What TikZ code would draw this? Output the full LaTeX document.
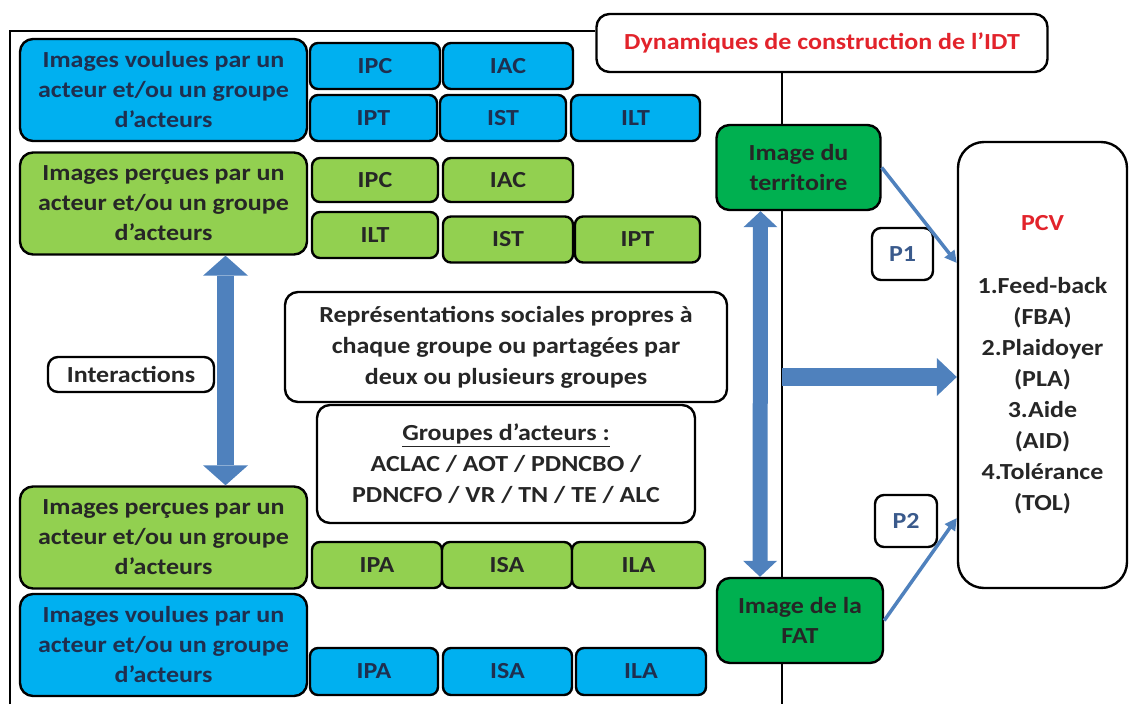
\documentclass[tikz,border=0pt]{standalone}
\usepackage{fontspec}
\setmainfont{Carlito}[FakeStretch=1.13]
\usetikzlibrary{arrows.meta,positioning}

\definecolor{cyanfill}{HTML}{00B0F0}
\definecolor{limefill}{HTML}{92D050}
\definecolor{deepgreen}{HTML}{00B050}
\definecolor{arrowblue}{HTML}{4F81BD}
\definecolor{titlered}{HTML}{E2232B}
\definecolor{navytext}{HTML}{1F2F4F}
\definecolor{ptext}{HTML}{3A5A8C}

\tikzset{
  box/.style={draw, line width=2.4pt, rounded corners=13pt, align=center, inner sep=0pt,
    font=\bfseries\fontsize{23}{30}\selectfont},
  bigbox/.style={box, minimum width=287pt, minimum height=102pt},
  tag/.style={box, rounded corners=8pt, minimum width=128pt, minimum height=46pt},
  wanted/.style={fill=cyanfill, text=navytext},
  seen/.style={fill=limefill, text=black!85},
  imgbox/.style={box, fill=deepgreen, text=black!85, minimum width=164pt, minimum height=85pt},
  note/.style={box, fill=white, text=black!85},
  bigarrow/.style={draw=arrowblue, line width=17pt},
  thinarrow/.style={draw=arrowblue, line width=3.5pt, -{Triangle[width=12pt,length=12pt]}},
  frame/.style={line width=2.4pt}
}

\begin{document}
\begin{tikzpicture}[x=1pt, y=-1pt]
\useasboundingbox (0,0) rectangle (1131,704);

\node[note, minimum width=451pt, minimum height=58pt, text=titlered] (title) at (822,43) {Dynamiques de construction de l’IDT};
\coordinate (spine) at (782,704);
\draw[frame] (10,704) -- (10,31) -- (title.west |- 0,31);
\draw[frame] (title.south -| spine) -- (spine);

% images voulues / percues
\node[bigbox, wanted] (want1) at (163.5,90) {Images voulues par un\\acteur et/ou un groupe\\d’acteurs};
\node[bigbox, seen] (seen1) at (163.5,203.5) {Images perçues par un\\acteur et/ou un groupe\\d’acteurs};
\node[bigbox, seen] (seen2) at (163.5,537.5) {Images perçues par un\\acteur et/ou un groupe\\d’acteurs};
\node[bigbox, wanted] (want2) at (163.5,645) {Images voulues par un\\acteur et/ou un groupe\\d’acteurs};

\node[tag, wanted, minimum width=130pt] (wipc) at (375,66) {IPC};
\node[tag, wanted, minimum width=130pt] (wiac) at (508,66) {IAC};
\node[tag, wanted, minimum width=127pt] (wipt) at (373.5,118) {IPT};
\node[tag, wanted, minimum width=126pt] (wist) at (503,118) {IST};
\node[tag, wanted, minimum width=129pt] (wilt) at (635.5,118) {ILT};

\node[tag, seen, minimum width=126pt, minimum height=44pt] (sipc) at (375,180) {IPC};
\node[tag, seen, minimum width=130pt, minimum height=44pt] (siac) at (508,180) {IAC};
\node[tag, seen, minimum width=126pt] (silt) at (375,235) {ILT};
\node[tag, seen, minimum width=130pt] (sist) at (508,239.5) {IST};
\node[tag, seen, minimum width=125pt] (sipt) at (637.5,239.5) {IPT};

\node[tag, seen, minimum width=130pt] (sipa) at (377,565) {IPA};
\node[tag, seen, minimum width=130pt] (sisa) at (507,565) {ISA};
\node[tag, seen, minimum width=133pt] (sila) at (638.5,565) {ILA};

\node[tag, wanted, minimum width=128pt, minimum height=47pt] (wipa) at (374,671.5) {IPA};
\node[tag, wanted, minimum width=129pt, minimum height=47pt] (wisa) at (507.5,671.5) {ISA};
\node[tag, wanted, minimum width=130pt, minimum height=47pt] (wila) at (641,671.5) {ILA};

% representations sociales
\node[note, rounded corners=10pt, minimum width=166pt, minimum height=35pt] (inter) at (131,374.5) {Interactions};
\node[note, minimum width=442pt, minimum height=110pt, font=\bfseries\fontsize{23}{31}\selectfont] (repr) at (506,347) {Représentations sociales propres à\\chaque groupe ou partagées par\\deux ou plusieurs groupes};
\node[note, minimum width=378pt, minimum height=118pt, font=\bfseries\fontsize{23}{31}\selectfont] (groups) at (506,464) {\underline{Groupes d’acteurs :}\\ACLAC / AOT / PDNCBO /\\PDNCFO / VR / TN / TE / ALC};

\draw[bigarrow, {Triangle[width=45pt,length=20pt,line width=0pt]}-{Triangle[width=45pt,length=20pt,line width=0pt]}]
  ([xshift=62pt]seen1.south) -- ([xshift=62pt]seen2.north);

% images du territoire et PCV
\node[imgbox] (terr) at (798.5,167.5) {Image du\\territoire};
\node[imgbox, minimum width=166pt] (fat) at (800,620.5) {Image de la\\FAT};
\node[note, rounded corners=26pt, minimum width=169pt, minimum height=446pt, font=\bfseries\fontsize{23}{31}\selectfont] (pcv) at (1042.5,365)
  {\textcolor{titlered}{PCV}\\[32pt]1.Feed-back\\(FBA)\\2.Plaidoyer\\(PLA)\\3.Aide\\(AID)\\4.Tolérance\\(TOL)};
\node[note, rounded corners=9pt, minimum width=61pt, minimum height=52pt, text=ptext] (p1) at (902.5,254) {P1};
\node[note, rounded corners=9pt, minimum width=62pt, minimum height=52pt, text=ptext] (p2) at (906,521) {P2};

\draw[bigarrow, line width=15pt, {Triangle[width=34pt,length=16pt,line width=0pt]}-{Triangle[width=34pt,length=16pt,line width=0pt]}]
  ([xshift=-38pt]terr.south) -- ([xshift=-40pt]fat.north);
\coordinate (pin) at ([yshift=-12pt]pcv.west);
\draw[bigarrow, line width=18pt, -{Triangle[width=38pt,length=20pt,line width=0pt]}] (pin -| spine) -- (pin);
\draw[thinarrow] (terr.east) -- ([yshift=102pt]pcv.west);
\draw[thinarrow] (fat.east) -- ([yshift=-153pt]pcv.west);
\end{tikzpicture}
\end{document}
